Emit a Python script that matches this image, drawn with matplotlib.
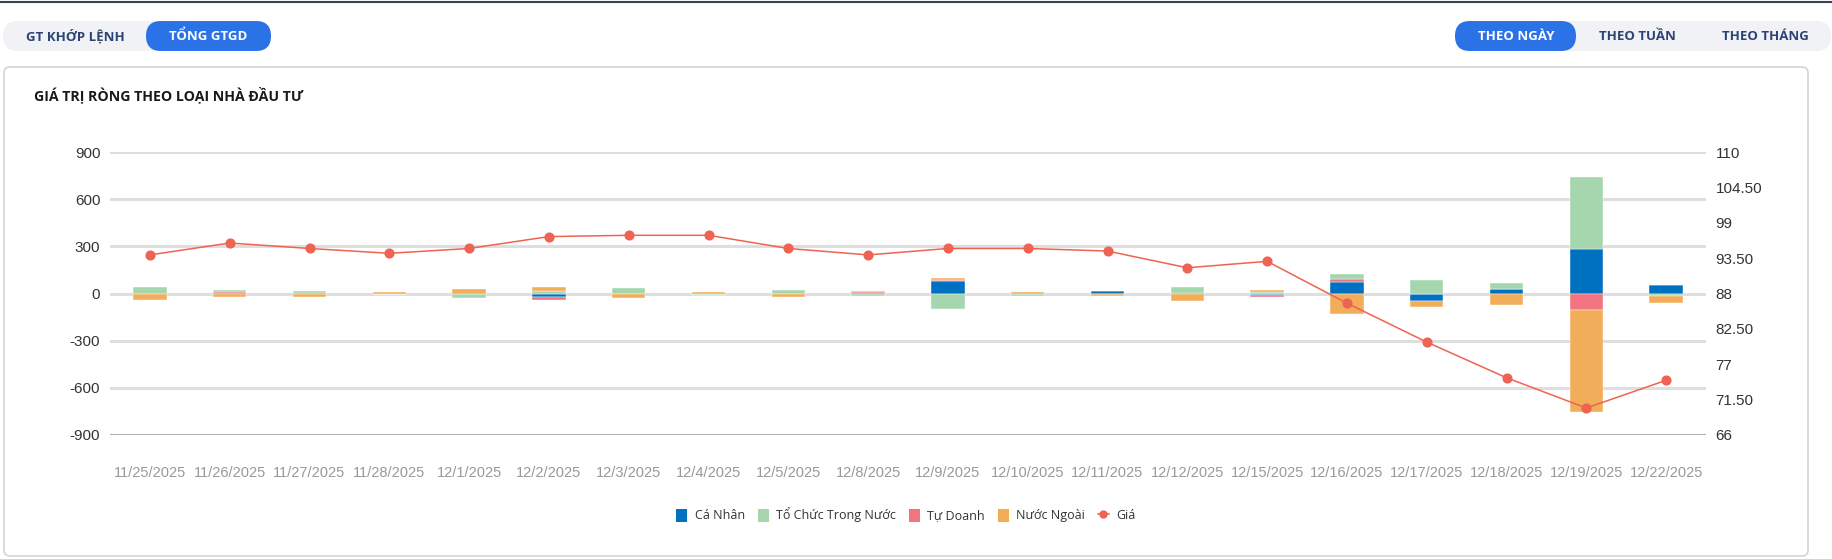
import numpy as np
import matplotlib
matplotlib.use("Agg")
import matplotlib.pyplot as plt
from matplotlib.patches import FancyBboxPatch, Patch
from matplotlib.lines import Line2D

dates = ["11/25/2025", "11/26/2025", "11/27/2025", "11/28/2025", "12/1/2025",
         "12/2/2025", "12/3/2025", "12/4/2025", "12/5/2025", "12/8/2025",
         "12/9/2025", "12/10/2025", "12/11/2025", "12/12/2025", "12/15/2025",
         "12/16/2025", "12/17/2025", "12/18/2025", "12/19/2025", "12/22/2025"]

ca_nhan = [0, 0, 3, 0, 0, -25, -4, 0, 0, 0, 82, 0, 13, 5, -10, 70, -50, 27, 280, 55]
to_chuc = [40, 14, 12, -6, -27, 18, 35, -10, 20, -18, -100, -13, 0, 35, 8, 30, 83, 40, 462, -19]
tu_doanh = [-3, 8, 0, 0, 0, -15, 0, 0, 0, 8, 3, 0, -5, 0, -10, 25, 0, 0, -104, 0]
nuoc_ngoai = [-40, -20, -25, 10, 28, 25, -22, 10, -22, 8, 15, 12, -10, -45, 17, -130, -33, -72, -648, -42]
gia = [94.0, 95.85, 95.0, 94.25, 95.0, 96.85, 97.05, 97.05, 95.0, 94.0,
       95.0, 95.0, 94.6, 92.0, 93.0, 86.5, 80.45, 74.9, 70.2, 74.5]

left_ticks = [-900, -600, -300, 0, 300, 600, 900]
right_ticks = [66, 71.5, 77, 82.5, 88, 93.5, 99, 104.5, 110]

C_CN = "#0070c0"
C_TC = "#a5d6ad"
C_TD = "#f17480"
C_NN = "#f2ad5b"
C_GIA = "#ee6352"

W, H = 1833, 559
fig = plt.figure(figsize=(W / 100, H / 100), dpi=100)
fig.patch.set_facecolor("white")

# page chrome, drawn in pixel coords
bg = fig.add_axes([0, 0, 1, 1])
bg.set_xlim(0, W)
bg.set_ylim(H, 0)
bg.axis("off")
bg.plot([0, W], [2, 2], color="#3a4256", lw=1.5)

def pill(x0, x1, y0, y1, color):
    r = (y1 - y0) / 2
    bg.add_patch(FancyBboxPatch((x0, y0), x1 - x0, y1 - y0,
                                boxstyle=f"round,pad=0,rounding_size={r}",
                                fc=color, ec="none"))

def card(x0, x1, y0, y1, color, r):
    bg.add_patch(FancyBboxPatch((x0, y0), x1 - x0, y1 - y0,
                                boxstyle=f"round,pad=0,rounding_size={r}",
                                fc="white", ec=color, lw=1.2))

ui = ["Open Sans", "DejaVu Sans"]
btn = dict(ha="center", va="center", fontsize=9.5, fontweight="bold", family=ui)
pill(3, 271, 21, 51, "#f0f2f5")
pill(146, 271, 21, 51, "#2b72e6")
bg.text(75, 36, "GT KHỚP LỆNH", color="#2d4373", **btn)
bg.text(208, 36, "TỔNG GTGD", color="white", **btn)

pill(1455, 1831, 21, 51, "#f0f2f5")
pill(1455, 1576, 21, 51, "#2b72e6")
bg.text(1516, 36, "THEO NGÀY", color="white", **btn)
bg.text(1637, 36, "THEO TUẦN", color="#2d4373", **btn)
bg.text(1765, 36, "THEO THÁNG", color="#2d4373", **btn)

card(4, 1808, 67, 556, "#d4d4d4", 6)
bg.text(34, 95, "GIÁ TRỊ RÒNG THEO LOẠI NHÀ ĐẦU TƯ", ha="left", va="center",
        fontsize=10.2, fontweight="bold", color="#1a1a1a", family=ui)

# chart
x0, x1, ytop, ybot = 110, 1706, 152, 435
ax = fig.add_axes([x0 / W, 1 - ybot / H, (x1 - x0) / W, (ybot - ytop) / H])
ax.set_facecolor("none")
x = np.arange(len(dates))

for t in left_ticks:
    ax.axhline(t, color="#b3b3b3" if t == -900 else "#dedede",
               lw=2.2, zorder=0)

pos = np.zeros(len(dates))
neg = np.zeros(len(dates))
stack = [(ca_nhan, C_CN), (tu_doanh, C_TD), (to_chuc, C_TC), (nuoc_ngoai, C_NN)]
for vals, col in stack:
    v = np.array(vals, dtype=float)
    base = np.where(v >= 0, pos, neg)
    ax.bar(x, v, width=0.42, bottom=base, color=col, edgecolor="#ffffff",
           linewidth=0.3, zorder=2)
    pos += np.where(v >= 0, v, 0)
    neg += np.where(v < 0, v, 0)

ax.set_xlim(-0.5, len(dates) - 0.5)
ax.set_ylim(-900, 900)
ax.set_yticks(left_ticks)
ax.set_yticklabels([str(t) for t in left_ticks])
ax.set_xticks(x)
ax.set_xticklabels(dates)
ax.tick_params(axis="y", length=0, pad=7, labelsize=11, labelcolor="#333333")
ax.tick_params(axis="x", length=0, pad=22, labelsize=10.5, labelcolor="#999999")
for s in ax.spines.values():
    s.set_visible(False)
for lab in ax.get_xticklabels() + ax.get_yticklabels():
    lab.set_family("Liberation Sans")

ax2 = ax.twinx()
ax2.plot(x, gia, color=C_GIA, lw=1.1, marker="o", markersize=6.3, zorder=5)
ax2.set_ylim(66, 110)
ax2.set_yticks(right_ticks)
ax2.set_yticklabels([f"{t:g}" if float(t).is_integer() else f"{t:.2f}" for t in right_ticks])
ax2.tick_params(axis="y", length=0, pad=7, labelsize=11, labelcolor="#333333")
for lab in ax2.get_yticklabels():
    lab.set_family("Liberation Sans")
for s in ax2.spines.values():
    s.set_visible(False)

handles = [Patch(fc=C_CN, ec="none"), Patch(fc=C_TC, ec="none"),
           Patch(fc=C_TD, ec="none"), Patch(fc=C_NN, ec="none"),
           Line2D([0], [0], color=C_GIA, lw=1.1, marker="o", markersize=5)]
labels = ["Cá Nhân", "Tổ Chức Trong Nước", "Tự Doanh", "Nước Ngoài", "Giá"]
fig.legend(handles, labels, loc="center", bbox_to_anchor=(906 / W, 1 - 515 / H),
           ncol=5, frameon=False, prop={"family": ui, "size": 9},
           handlelength=0.9, handleheight=1.2, handletextpad=0.6,
           columnspacing=1.0, labelcolor="#333333")

fig.savefig("out.png", dpi=100)
